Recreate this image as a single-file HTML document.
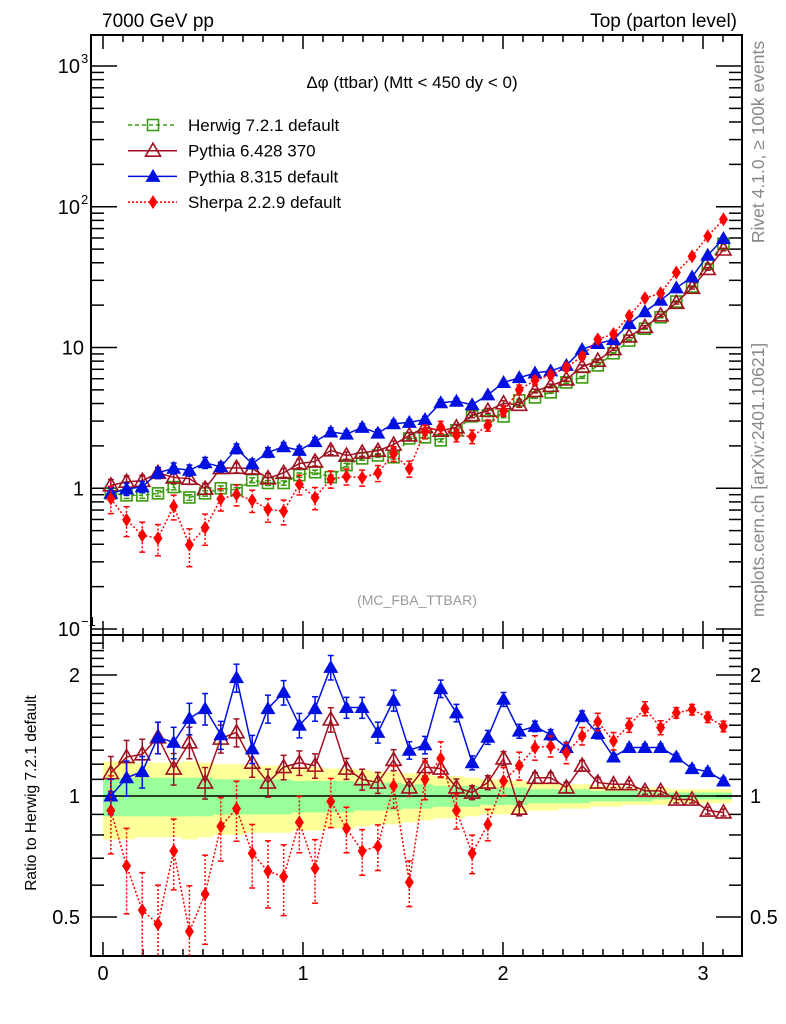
<!DOCTYPE html>
<html><head><meta charset="utf-8">
<style>
html,body{margin:0;padding:0;background:#fff;}
svg{display:block;font-family:"Liberation Sans",sans-serif;}
</style></head>
<body>
<svg id="chart" width="786" height="1024" viewBox="0 0 786 1024" xmlns="http://www.w3.org/2000/svg">
<g id="bands"></g>
<g id="axes"></g>
<g id="series"></g>
<text x="102" y="27" font-size="19">7000 GeV pp</text>
<text x="737" y="27" font-size="19" text-anchor="end">Top (parton level)</text>
<text x="412" y="88" font-size="17" text-anchor="middle">Δφ (ttbar) (Mtt &lt; 450 dy &lt; 0)</text>
<text x="417" y="605" font-size="14" fill="#999" text-anchor="middle">(MC_FBA_TTBAR)</text>
<text transform="translate(764,142) rotate(-90)" font-size="17.5" fill="#888" text-anchor="middle">Rivet 4.1.0, ≥ 100k events</text>
<text transform="translate(764,480) rotate(-90)" font-size="17.5" fill="#888" text-anchor="middle">mcplots.cern.ch [arXiv:2401.10621]</text>
<text transform="translate(36,793) rotate(-90)" font-size="15.5" text-anchor="middle">Ratio to Herwig 7.2.1 default</text>
<g id="legend"></g>
</svg>
<script>
const nBins = 40;
const herwig = [0.92,0.89,0.89,0.92,1.02,0.86,0.92,1.0,0.97,1.14,1.09,1.09,1.24,1.30,1.20,1.46,1.63,1.71,1.66,2.26,2.30,2.19,2.58,3.24,3.29,3.24,4.21,4.42,4.80,5.65,6.13,7.46,9.1,11.2,13.6,16.4,21.2,27.1,39.3,54.6];
const ratioPythia6 = [1.14,1.25,1.27,1.40,1.17,1.36,1.08,1.39,1.44,1.21,1.08,1.18,1.21,1.19,1.55,1.17,1.10,1.08,1.23,1.05,1.18,1.17,1.05,1.02,1.08,1.24,0.93,1.11,1.11,1.05,1.19,1.08,1.07,1.07,1.03,1.03,0.98,0.98,0.92,0.91];
const ratioPythia8 = [1.0,1.11,1.15,1.40,1.36,1.56,1.65,1.42,1.97,1.31,1.65,1.81,1.50,1.65,2.09,1.66,1.66,1.44,1.73,1.30,1.34,1.85,1.61,1.21,1.40,1.74,1.45,1.49,1.42,1.32,1.58,1.43,1.25,1.32,1.32,1.32,1.25,1.17,1.15,1.09];
const ratioSherpa = [0.92,0.67,0.52,0.48,0.73,0.46,0.57,0.84,0.93,0.72,0.65,0.63,0.86,0.66,0.97,0.83,0.73,0.75,1.06,0.61,1.10,1.24,0.92,0.72,0.85,1.09,1.19,1.32,1.33,1.28,1.41,1.53,1.37,1.50,1.65,1.48,1.61,1.64,1.57,1.49];
const bandYellow = [0.22,0.22,0.21,0.21,0.21,0.22,0.21,0.20,0.20,0.19,0.19,0.19,0.18,0.18,0.17,0.17,0.16,0.15,0.15,0.14,0.13,0.12,0.12,0.11,0.10,0.10,0.09,0.08,0.08,0.07,0.07,0.06,0.06,0.05,0.05,0.05,0.04,0.04,0.04,0.04];
const bandGreen = [0.11,0.11,0.11,0.11,0.11,0.11,0.11,0.10,0.10,0.10,0.10,0.10,0.09,0.09,0.09,0.09,0.08,0.08,0.08,0.07,0.07,0.06,0.06,0.06,0.05,0.05,0.05,0.04,0.04,0.04,0.04,0.03,0.03,0.03,0.03,0.02,0.02,0.02,0.02,0.02];
const mcErr = [0.10,0.10,0.09,0.09,0.09,0.09,0.09,0.08,0.08,0.08,0.08,0.07,0.07,0.07,0.07,0.06,0.06,0.06,0.06,0.05,0.05,0.05,0.05,0.04,0.04,0.04,0.04,0.03,0.03,0.03,0.03,0.03,0.02,0.02,0.02,0.02,0.02,0.02,0.02,0.02];
const sherpaErr = [0.22,0.24,0.24,0.25,0.20,0.30,0.25,0.18,0.17,0.18,0.19,0.20,0.16,0.18,0.14,0.13,0.13,0.13,0.12,0.13,0.11,0.10,0.10,0.11,0.09,0.08,0.08,0.07,0.06,0.06,0.05,0.05,0.05,0.04,0.04,0.04,0.03,0.03,0.03,0.03];
const xTicks = [0,1,2,3];
const ratioTicks = [0.5,1,2];

const NS="http://www.w3.org/2000/svg";
const L=91, R=742, T=35, MB=635, RB=956;
const X = v => 103 + 200*v;
const Y = v => 66 + 140.75*(3 - Math.log10(v));
const YR = r => 796 - 121*Math.log2(r);
const binC = i => (i+0.5)*Math.PI/nBins;
const binE = i => i*Math.PI/nBins;
function mk(tag, attrs, parent){const e=document.createElementNS(NS,tag);for(const k in attrs)e.setAttribute(k,attrs[k]);parent.appendChild(e);return e;}

const bands=document.getElementById('bands');
for(let i=0;i<nBins;i++){
  const x0=X(binE(i)), x1=X(binE(i+1));
  const y=mk('rect',{x:x0,y:YR(1+bandYellow[i]),width:x1-x0+0.5,height:YR(1-bandYellow[i])-YR(1+bandYellow[i]),fill:'#ffff99'},bands);
  
  
  const g=mk('rect',{x:x0,y:YR(1+bandGreen[i]),width:x1-x0+0.5,height:YR(1-bandGreen[i])-YR(1+bandGreen[i]),fill:'#99ff99'},bands);
  
  
}

const ax=document.getElementById('axes');
mk('rect',{x:L,y:T,width:R-L,height:MB-T,fill:'none',stroke:'#000','stroke-width':2},ax);
mk('rect',{x:L,y:MB,width:R-L,height:RB-MB,fill:'none',stroke:'#000','stroke-width':2},ax);
mk('line',{x1:L,x2:R,y1:YR(1),y2:YR(1),stroke:'#000','stroke-width':1.5},ax);
for(let k=0;k<=31;k++){const v=k/10;const x=X(v);const big=k%10===0;const len=big?14:7;
  [T,MB].forEach(yb=>mk('line',{x1:x,x2:x,y1:yb,y2:yb+len,stroke:'#000','stroke-width':1.5},ax));
  [MB,RB].forEach(yb=>mk('line',{x1:x,x2:x,y1:yb,y2:yb-len,stroke:'#000','stroke-width':1.5},ax));
}
xTicks.forEach(v=>{const t=mk('text',{x:X(v),y:980,'font-size':20,'text-anchor':'middle'},ax);t.textContent=v;
  
  });
for(let d=-1;d<=3;d++){for(let m=1;m<=9;m++){const v=m*Math.pow(10,d);const y=Y(v);if(y<T||y>MB)continue;const len=m===1?26:13;
  mk('line',{x1:L,x2:L+len,y1:y,y2:y,stroke:'#000','stroke-width':1.5},ax);
  mk('line',{x1:R,x2:R-len,y1:y,y2:y,stroke:'#000','stroke-width':1.5},ax);}}
const ylabs=[[3,'10','3'],[2,'10','2'],[1,'10',''],[0,'1',''],[-1,'10','−1']];
ylabs.forEach(a=>{const t=mk('text',{x:a[2]?80:84,y:Y(Math.pow(10,a[0]))+7,'font-size':20,'text-anchor':'end'},ax);
  t.textContent=a[1];
  
  
  if(a[2]){const s=mk('text',{x:81,y:Y(Math.pow(10,a[0]))-3,'font-size':13},ax);s.textContent=a[2];}});
for(let k=4;k<=24;k++){const v=k/10;if(v<0.45)continue;const y=YR(v);if(y<MB||y>RB)continue;const big=(v===0.5||v===1||v===2);const len=big?26:13;
  mk('line',{x1:L,x2:L+len,y1:y,y2:y,stroke:'#000','stroke-width':1.5},ax);
  mk('line',{x1:R,x2:R-len,y1:y,y2:y,stroke:'#000','stroke-width':1.5},ax);}
ratioTicks.forEach(v=>{[[80,'end'],[750,'start']].forEach(p=>{const t=mk('text',{x:p[0],y:YR(v)+7,'font-size':20,'text-anchor':p[1]},ax);t.textContent=v;
  
  });});

const ser=document.getElementById('series');
function marker(kind,x,y,color,g){
  if(kind==='sq') mk('rect',{x:x-5.5,y:y-5.5,width:11,height:11,fill:'none',stroke:color,'stroke-width':1.6},g);
  else if(kind==='otri') mk('polygon',{points:`${x},${y-7.5} ${x-7.5},${y+5.5} ${x+7.5},${y+5.5}`,fill:'none',stroke:color,'stroke-width':1.6},g);
  else if(kind==='tri') mk('polygon',{points:`${x},${y-7.5} ${x-7.5},${y+5.5} ${x+7.5},${y+5.5}`,fill:color},g);
  else mk('polygon',{points:`${x},${y-7} ${x-4.5},${y} ${x},${y+7} ${x+4.5},${y}`,fill:color},g);
}
function drawSeries(name,ratio,err,color,kind,dash,inRatio){
  const g=mk('g',{},ser);
  
  
  const vals=herwig.map((h,i)=>h*(ratio?ratio[i]:1));
  const panels=[{f:Y,v:vals}];
  if(inRatio) panels.push({f:YR,v:ratio});
  panels.forEach(p=>{
    const pts=p.v.map((v,i)=>`${X(binC(i))},${p.f(v)}`).join(' ');
    mk('polyline',{points:pts,fill:'none',stroke:color,'stroke-width':1.5,'stroke-dasharray':dash},g);
    p.v.forEach((v,i)=>{const x=X(binC(i));
      const y1=p.f(v*(1+err[i])), y2=Math.min(p.f(Math.max(v*(1-err[i]),0.01)),RB);
      mk('line',{x1:x,x2:x,y1:y1,y2:y2,stroke:color,'stroke-width':1.5,'stroke-dasharray':dash},g);
      mk('line',{x1:x-3,x2:x+3,y1:y1,y2:y1,stroke:color,'stroke-width':1.5},g);
      if(y2<RB) mk('line',{x1:x-3,x2:x+3,y1:y2,y2:y2,stroke:color,'stroke-width':1.5},g);
      marker(kind,x,p.f(v),color,g);});
  });
}
drawSeries('herwig-series',null,mcErr.map(e=>e*0.5),'#3a9a10','sq','4,3',false);
drawSeries('pythia6-series',ratioPythia6,mcErr,'#a01020','otri','',true);
drawSeries('pythia8-series',ratioPythia8,mcErr,'#0010e0','tri','',true);
drawSeries('sherpa-series',ratioSherpa,sherpaErr,'#ff0000','dia','2,2',true);

const lg=document.getElementById('legend');
const entries=[['Herwig 7.2.1 default','#3a9a10','sq','4,3'],['Pythia 6.428 370','#a01020','otri',''],['Pythia 8.315 default','#0010e0','tri',''],['Sherpa 2.2.9 default','#ff0000','dia','2,2']];
entries.forEach((e,k)=>{const y=125+k*25.7;const g=mk('g',{},lg);
  
  
  mk('line',{x1:128,x2:177,y1:y,y2:y,stroke:e[1],'stroke-width':1.5,'stroke-dasharray':e[3]},g);
  marker(e[2],153,y,e[1],g);
  const t=mk('text',{x:188,y:y+6,'font-size':17},g);t.textContent=e[0];});
</script>
</body></html>
